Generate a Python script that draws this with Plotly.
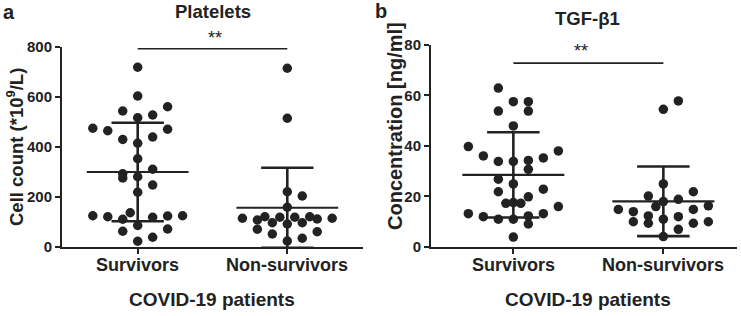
import plotly.graph_objects as go

# ---------------- data ----------------
categories = ["Survivors", "Non-survivors"]

# Panel a: Platelets (*10^9/L)
plt_surv = [719, 604, 544, 561, 517, 528, 475, 465, 471, 430, 415, 440, 353,
            293, 276, 281, 311, 248, 219, 125, 121, 137, 111, 119, 124, 125,
            86, 63, 39, 72, 23]
plt_surv_spread = [0, 0, -0.10, 0.20, 0, 0.10, -0.30, -0.20, 0.20, -0.10, 0, 0.10, 0,
                   -0.10, -0.10, 0, 0.10, 0.10, 0, -0.30, -0.20, -0.05, -0.10, 0.10, 0.20, 0.30,
                   0, -0.10, 0.10, 0.20, 0]
plt_non = [715, 515, 221, 204, 159, 115, 108, 121, 97, 119, 119, 97, 121, 112,
           115, 71, 92, 52, 61, 35, 24]
plt_non_spread = [0, 0, 0, 0.10, 0, -0.30, -0.20, -0.15, -0.10, -0.05, 0.05, 0.10, 0.15, 0.20,
                  0.30, -0.20, 0, -0.10, 0.20, 0.10, 0]
plt_mean = [300, 157]
plt_sd = [197, 160]
plt_sig = 793

# Panel b: TGF-beta1 (ng/ml)
tgf_surv = [62.9, 57.5, 57.5, 53.8, 53.8, 47.9, 39.7, 36.0, 33.8, 33.8, 34.2, 30.7,
            35.2, 38.0, 26.8, 24.9, 21.8, 19.8, 22.8, 17.2, 17.5, 17.2, 15.9, 13.1,
            11.9, 10.9, 10.9, 12.2, 9.0, 13.1, 3.8]
tgf_surv_spread = [-0.10, 0, 0.10, -0.10, 0.10, 0, -0.30, -0.20, -0.10, 0, 0.10, 0.10,
                   0.20, 0.30, -0.10, 0, -0.10, 0.10, 0.20, -0.05, 0, 0.05, 0.30, -0.30,
                   -0.20, -0.10, 0, 0.10, 0.10, 0.20, 0]
tgf_non = [54.5, 57.8, 24.9, 20.1, 21.8, 18.8, 17.9, 15.9, 14.8, 13.9, 9.9, 12.2,
           9.3, 10.9, 11.9, 6.9, 14.8, 9.3, 16.2, 9.9, 4.0]
tgf_non_spread = [0, 0.10, 0, -0.10, 0.20, 0.10, 0, -0.05, -0.30, -0.20, -0.20, -0.10,
                  -0.10, 0, 0.10, 0.10, 0.20, 0.20, 0.30, 0.30, 0]
tgf_mean = [28.5, 18.0]
tgf_sd = [16.9, 13.8]
tgf_sig = 72.8

# ---------------- styling ----------------
INK = "#222222"
FONT = "Liberation Sans, Arial, sans-serif"
MEAN_HW = 0.34
CAP_HW = 0.175

W, H = 741, 316

fig = go.Figure()


def add_panel(xa, ya, surv, surv_sp, non, non_sp, mean, sd, sig):
    for i, (vals, sp) in enumerate([(surv, surv_sp), (non, non_sp)]):
        fig.add_trace(go.Scatter(
            x=[i + s for s in sp], y=vals, mode="markers",
            marker=dict(size=9.5, color=INK, line=dict(width=0)),
            xaxis=xa, yaxis=ya, showlegend=False, cliponaxis=False,
            hoverinfo="y"))
    for i in range(2):
        m, s = mean[i], sd[i]
        fig.add_trace(go.Scatter(
            x=[i - MEAN_HW, i + MEAN_HW], y=[m, m], mode="lines",
            line=dict(color=INK, width=2.2), xaxis=xa, yaxis=ya,
            showlegend=False, hoverinfo="skip"))
        fig.add_trace(go.Scatter(
            x=[i, i, None, i - CAP_HW, i + CAP_HW, None, i - CAP_HW, i + CAP_HW],
            y=[m - s, m + s, None, m + s, m + s, None, m - s, m - s],
            mode="lines", line=dict(color=INK, width=2.6),
            xaxis=xa, yaxis=ya, showlegend=False, hoverinfo="skip"))
    fig.add_trace(go.Scatter(
        x=[0, 1], y=[sig, sig], mode="lines",
        line=dict(color=INK, width=1.6), xaxis=xa, yaxis=ya,
        showlegend=False, hoverinfo="skip"))


add_panel("x", "y", plt_surv, plt_surv_spread, plt_non, plt_non_spread,
          plt_mean, plt_sd, plt_sig)
add_panel("x2", "y2", tgf_surv, tgf_surv_spread, tgf_non, tgf_non_spread,
          tgf_mean, tgf_sd, tgf_sig)

axis_common = dict(showline=True, linecolor=INK, linewidth=2, ticks="outside",
                   ticklen=5, tickwidth=2, tickcolor=INK, showgrid=False,
                   zeroline=False, fixedrange=True, automargin=False)

fig.update_layout(
    template="none",
    width=W, height=H, margin=dict(l=0, r=0, t=0, b=0, pad=0, autoexpand=False),
    paper_bgcolor="white", plot_bgcolor="white",
    font=dict(family=FONT, color=INK),
    showlegend=False,
    xaxis=dict(domain=[62 / W, 363.3 / W], range=[-0.506, 1.508], anchor="y",
               tickvals=[0, 1], showticklabels=False, **axis_common),
    yaxis=dict(domain=[(H - 247) / H, (H - 47) / H], range=[0, 800], anchor="x",
               tickvals=[0, 200, 400, 600, 800],
               tickfont=dict(size=15, weight="bold", color=INK), **axis_common),
    xaxis2=dict(domain=[431 / W, 736.7 / W], range=[-0.549, 1.489], anchor="y2",
                tickvals=[0, 1], showticklabels=False, **axis_common),
    yaxis2=dict(domain=[(H - 246.7) / H, (H - 45) / H], range=[0, 80], anchor="x2",
                tickvals=[0, 20, 40, 60, 80],
                tickfont=dict(size=15, weight="bold", color=INK), **axis_common),
)

ann = [
    dict(text="a", x=1 / W, y=1 - 12 / H, xanchor="left", yanchor="middle",
         font=dict(size=20, weight="bold")),
    dict(text="b", x=373 / W, y=1 - 11 / H, xanchor="left", yanchor="middle",
         font=dict(size=20, weight="bold")),
    dict(text="Platelets", x=213 / W, y=1 - 12 / H, xanchor="center", yanchor="middle",
         font=dict(size=18.5, weight="bold")),
    dict(text="TGF-β1", x=587 / W, y=1 - 19 / H, xanchor="center", yanchor="middle",
         font=dict(size=18.5, weight="bold")),
    dict(text="COVID-19 patients", x=212 / W, y=1 - 299 / H, xanchor="center",
         yanchor="middle", font=dict(size=19, weight="bold")),
    dict(text="COVID-19 patients", x=588 / W, y=1 - 299 / H, xanchor="center",
         yanchor="middle", font=dict(size=19, weight="bold")),
    dict(text="Cell count (*10<sup>9</sup>/L)", x=15 / W, y=1 - 147 / H,
         xanchor="center", yanchor="middle", textangle=-90,
         font=dict(size=18.5, weight="bold")),
    dict(text="Concentration [ng/ml]", x=395 / W, y=1 - 126 / H,
         xanchor="center", yanchor="middle", textangle=-90,
         font=dict(size=20, weight="bold")),
    # significance stars
    dict(text="**", x=215 / W, y=1 - 38 / H, xanchor="center", yanchor="middle",
         font=dict(size=18)),
    dict(text="**", x=581 / W, y=1 - 51 / H, xanchor="center", yanchor="middle",
         font=dict(size=18)),
]
for a in ann:
    a.update(xref="paper", yref="paper", showarrow=False)

# category labels under each x axis
for xa in ("x", "x2"):
    for i, cat in enumerate(categories):
        ann.append(dict(text=cat, x=i, xref=xa, y=1 - 265 / H, yref="paper",
                        xanchor="center", yanchor="middle", showarrow=False,
                        font=dict(size=18, weight="bold")))

fig.update_layout(annotations=ann)

fig.write_html("out.html",
               config={"displayModeBar": False},
               post_script="document.body.style.margin='0';"
                           "document.body.style.overflow='hidden';")
